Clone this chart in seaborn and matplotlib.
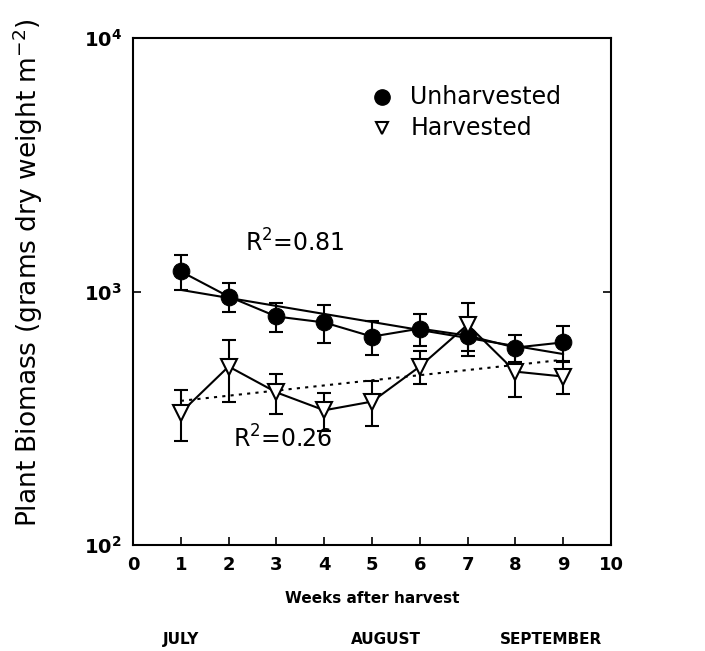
import numpy as np
import pandas as pd
import matplotlib
matplotlib.use("Agg")
import matplotlib.pyplot as plt
import seaborn as sns

weeks = [1, 2, 3, 4, 5, 6, 7, 8, 9]
unharvested = [1200, 955, 797, 755, 664, 714, 670, 601, 630]
unharvested_err = [190, 125, 105, 130, 100, 105, 115, 75, 100]
harvested = [333, 506, 400, 340, 368, 506, 740, 483, 462]
harvested_err = [76, 140, 72, 58, 74, 75, 160, 100, 67]

r2_unh = "R$^2$=0.81"
r2_har = "R$^2$=0.26"
months = ["JULY", "AUGUST", "SEPTEMBER"]
month_pos = [1, 5.3, 8.75]

sns.set_style("ticks")
plt.rcParams['font.family'] = ['DejaVu Sans']
plt.rcParams['text.color'] = 'black'
plt.rcParams['axes.labelcolor'] = 'black'
plt.rcParams['xtick.color'] = 'black'
plt.rcParams['ytick.color'] = 'black'

df = pd.DataFrame({'week': weeks, 'unh': unharvested, 'har': harvested})

fig = plt.figure(figsize=(7.05, 6.51), dpi=100)
ax = fig.add_axes([0.1887, 0.1628, 0.678, 0.7788])
ax.set_yscale('log')

# error bars
ax.errorbar(weeks, unharvested, yerr=unharvested_err, fmt='none', ecolor='black',
            elinewidth=1.5, capsize=5, capthick=1.5, zorder=2)
ax.errorbar(weeks, harvested, yerr=harvested_err, fmt='none', ecolor='black',
            elinewidth=1.5, capsize=5, capthick=1.5, zorder=2)

# regression lines (fit on log10)
w = np.array(weeks)
fu = np.polyfit(w, np.log10(unharvested), 1)
fh = np.polyfit(w, np.log10(harvested), 1)
xs = np.array([weeks[0], weeks[-1]])
ax.plot(xs, 10 ** np.polyval(fu, xs), color='black', lw=1.5, zorder=1)
ax.plot(xs, 10 ** np.polyval(fh, xs), color='black', lw=1.5, ls=(0, (1.5, 2.5)), zorder=1)

sns.lineplot(data=df, x='week', y='unh', ax=ax, color='black', lw=1.5, marker='o',
             markersize=12, markerfacecolor='black', markeredgecolor='black', zorder=3)
sns.lineplot(data=df, x='week', y='har', ax=ax, color='black', lw=1.5, marker='v',
             markersize=12, markerfacecolor='white', markeredgecolor='black',
             markeredgewidth=1.5, zorder=3)

ax.set_xlim(0, 10)
ax.set_ylim(100, 10000)
ax.set_xticks(range(0, 11))
ax.set_xticklabels([str(i) for i in range(0, 11)], fontsize=13, fontweight='bold')
ax.set_yticks([100, 1000, 10000])
ax.set_yticklabels([r'$\mathbf{10^{2}}$', r'$\mathbf{10^{3}}$', r'$\mathbf{10^{4}}$'], fontsize=14)
ax.minorticks_off()
ax.tick_params(direction='in', length=6, width=1.2, top=False, right=True, pad=8)
for s in ax.spines.values():
    s.set_linewidth(1.5)
    s.set_color('black')

ax.set_xlabel("Weeks after harvest", fontsize=11, fontweight='bold', labelpad=12)
ax.set_ylabel("Plant Biomass (grams dry weight m$^{-2}$)", fontsize=19)
ax.yaxis.set_label_coords(-0.185, 0.537)

ax.text(2.34, 1560, r2_unh, fontsize=17, va='center')
ax.text(2.09, 261, r2_har, fontsize=17, va='center')

# legend
ax.plot([5.2], [5875], marker='o', color='black', markersize=11, ls='none')
ax.text(5.8, 5875, "Unharvested", fontsize=17, va='center')
ax.plot([5.2], [4436], marker='v', markerfacecolor='white', markeredgecolor='black',
        markeredgewidth=1.5, markersize=9, ls='none')
ax.text(5.8, 4436, "Harvested", fontsize=17, va='center')

for m, p in zip(months, month_pos):
    ax.text(p, -0.187, m, transform=ax.get_xaxis_transform(), ha='center', va='center',
            fontsize=11, fontweight='bold')

fig.savefig("out.png", dpi=100)
